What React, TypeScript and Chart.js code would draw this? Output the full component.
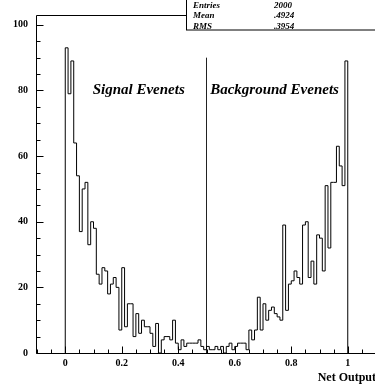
import React, { useEffect, useRef } from 'react';
import { Chart, registerables } from 'chart.js';

Chart.register(...registerables);

// Histogram binning: 100 bins of width 0.01 from 0 to 1
const binStart = 0;
const binWidth = 0.01;

// Bin contents for x = 0.00 ... 0.49
const signalCounts = [
  93, 79, 89, 64, 54, 37, 50, 52, 33, 40,
  38, 24, 21, 26, 25, 18, 21, 23, 20, 7,
  26, 8, 15, 15, 5, 12, 6, 10, 8, 8,
  6, 2, 9, 0, 4, 5, 5, 4, 10, 3,
  1, 4, 2, 3, 3, 3, 3, 4, 2, 1,
];

// Bin contents for x = 0.50 ... 0.99
const backgroundCounts = [
  2, 1, 1, 2, 1, 2, 0, 2, 3, 1,
  2, 3, 3, 3, 1, 7, 4, 7, 17, 7,
  15, 10, 13, 14, 12, 11, 10, 39, 13, 21,
  22, 25, 23, 21, 39, 40, 23, 28, 21, 36,
  35, 25, 51, 32, 52, 52, 63, 57, 51, 89,
];

// Vertical cut line
const dividerX = 0.5;
const dividerHeight = 90;

// Axis ranges and labels
const xMin = -0.1;
const xMax = 1.1;
const yMin = 0;
const yMax = 103;
const xTickValues = [0, 0.2, 0.4, 0.6, 0.8, 1];
const xTickLabels = ['0', '0.2', '0.4', '0.6', '0.8', '1'];
const yTickValues = [0, 20, 40, 60, 80, 100];
const yTickLabels = ['0', '20', '40', '60', '80', '100'];
const xTitle = 'Net Output';

// Region annotations
const regionTexts = ['Signal Evenets', 'Background Evenets'];
const regionTextX = [0.097, 0.513];
const regionTextY = 79;

// Statistics box
const statNames = ['Entries', 'Mean', 'RMS'];
const statValues = ['2000', '.4924', '.3954'];

const SERIF = '"Liberation Serif", "Times New Roman", serif';

const rootFramePlugin = {
  id: 'rootFrame',
  afterDraw(chart: any) {
    const { ctx, chartArea: a, scales } = chart;
    const xs = scales.x;
    const ys = scales.y;
    ctx.save();
    ctx.strokeStyle = '#000';
    ctx.lineWidth = 1;

    const L = Math.round(a.left) - 0.5;
    const B = Math.round(a.bottom) + 0.5;
    const T = Math.round(a.top) + 0.5;
    const boxLeft = 186.5;

    ctx.beginPath();
    // y axis
    ctx.moveTo(L, T);
    ctx.lineTo(L, B);
    // x axis
    ctx.moveTo(L, B);
    ctx.lineTo(a.right + 2, B);
    // top frame
    ctx.moveTo(L, T);
    ctx.lineTo(boxLeft, T);
    ctx.stroke();

    // inward ticks on y
    ctx.beginPath();
    for (const t of ys.ticks) {
      const py = Math.round(ys.getPixelForValue(t.value)) + 0.5;
      const major = yTickValues.some((v) => Math.abs(v - t.value) < 1e-6);
      ctx.moveTo(L, py);
      ctx.lineTo(L + (major ? 7 : 4), py);
    }
    // inward ticks on x
    for (const t of xs.ticks) {
      const px = Math.round(xs.getPixelForValue(t.value)) + 0.5;
      const major = xTickValues.some((v) => Math.abs(v - t.value) < 1e-6);
      ctx.moveTo(px, B);
      ctx.lineTo(px, B - (major ? 7 : 4));
    }
    ctx.stroke();

    // stats box
    ctx.fillStyle = '#fff';
    ctx.fillRect(boxLeft, -1, 400, 31);
    ctx.strokeRect(boxLeft, -1, 400, 31);
    ctx.fillStyle = '#000';
    ctx.font = `italic bold 9px ${SERIF}`;
    ctx.textBaseline = 'middle';
    ctx.textAlign = 'left';
    const rowY = [5.5, 16, 26.5];
    statNames.forEach((n, i) => {
      ctx.fillText(n, 193, rowY[i]);
      ctx.fillText(statValues[i], 274, rowY[i]);
    });

    // region annotations
    ctx.font = `italic bold 15px ${SERIF}`;
    ctx.textBaseline = 'alphabetic';
    regionTexts.forEach((txt, i) => {
      ctx.fillText(txt, xs.getPixelForValue(regionTextX[i]), ys.getPixelForValue(regionTextY));
    });

    // x title
    ctx.font = `bold 12px ${SERIF}`;
    ctx.textAlign = 'right';
    ctx.fillText(xTitle, a.right, 381);
    ctx.restore();
  },
};

export default function App() {
  const ref = useRef<HTMLCanvasElement>(null);

  useEffect(() => {
    const counts = [...signalCounts, ...backgroundCounts];
    const histPoints: { x: number; y: number }[] = [{ x: binStart, y: 0 }];
    counts.forEach((c, i) => histPoints.push({ x: binStart + i * binWidth, y: c }));
    histPoints.push({ x: binStart + counts.length * binWidth, y: 0 });

    const tickFont = { family: SERIF, weight: 'bold' as const, size: 10 };

    const chart = new Chart(ref.current as HTMLCanvasElement, {
      type: 'line',
      data: {
        datasets: [
          {
            data: histPoints,
            stepped: 'before',
            borderColor: '#000',
            borderWidth: 1,
            pointRadius: 0,
            fill: false,
          },
          {
            data: [
              { x: dividerX, y: 0 },
              { x: dividerX, y: dividerHeight },
            ],
            borderColor: '#222',
            borderWidth: 1,
            pointRadius: 0,
            fill: false,
          },
        ],
      },
      options: {
        responsive: false,
        animation: false,
        devicePixelRatio: 1,
        events: [],
        layout: { padding: { top: 11, right: 1, left: 0, bottom: 0 } },
        plugins: {
          legend: { display: false },
          tooltip: { enabled: false },
          title: { display: false },
        },
        scales: {
          x: {
            type: 'linear',
            min: xMin,
            max: xMax,
            grid: { display: false, drawTicks: false },
            border: { display: false },
            ticks: {
              stepSize: 0.05,
              autoSkip: false,
              maxRotation: 0,
              minRotation: 0,
              padding: 4,
              color: '#000',
              font: tickFont,
              callback: (v: any) => {
                const i = xTickValues.findIndex((t) => Math.abs(t - Number(v)) < 1e-6);
                return i >= 0 ? xTickLabels[i] : '';
              },
            },
            afterFit: (s: any) => {
              s.height = 31;
            },
          },
          y: {
            type: 'linear',
            min: yMin,
            max: yMax,
            grid: { display: false, drawTicks: false },
            border: { display: false },
            ticks: {
              stepSize: 5,
              includeBounds: false,
              autoSkip: false,
              padding: 9,
              color: '#000',
              font: tickFont,
              callback: (v: any) => {
                const i = yTickValues.findIndex((t) => Math.abs(t - Number(v)) < 1e-6);
                return i >= 0 ? yTickLabels[i] : '';
              },
            },
            afterFit: (s: any) => {
              s.width = 37;
            },
          },
        },
      },
      plugins: [rootFramePlugin],
    } as any);

    return () => chart.destroy();
  }, []);

  return (
    <div style={{ position: 'absolute', left: 0, top: 0, width: 375, height: 384, overflow: 'hidden', background: '#fff' }}>
      <canvas ref={ref} width={380} height={384} style={{ display: 'block' }} />
    </div>
  );
}
